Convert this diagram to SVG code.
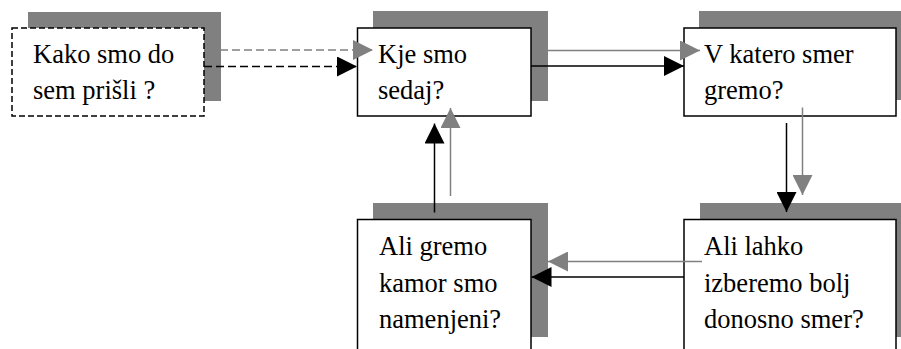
<svg xmlns="http://www.w3.org/2000/svg" width="901" height="349" viewBox="0 0 901 349" font-family="Liberation Serif, Times New Roman, serif">
  <style>
    .shadow { fill: #808080; stroke: none; }
    .box { fill: #ffffff; stroke: #000000; stroke-width: 1.5; }
    .box.dashed { stroke-dasharray: 6 3; }
    .label { font-size: 26.5px; fill: #000000; }
    .link { fill: none; stroke-width: 1.5; }
    .link.black { stroke: #000000; marker-end: url(#head-black); }
    .link.grey { stroke: #808080; marker-end: url(#head-grey); }
    .link.dash { stroke-dasharray: 8 4; }
  </style>
  <defs>
    <marker id="head-black" viewBox="0 0 20 20" refX="20" refY="10" markerWidth="20" markerHeight="20" markerUnits="userSpaceOnUse" orient="auto">
      <path d="M0,0 L20,10 L0,20 Z" fill="#000000"/>
    </marker>
    <marker id="head-grey" viewBox="0 0 20 20" refX="20" refY="10" markerWidth="20" markerHeight="20" markerUnits="userSpaceOnUse" orient="auto">
      <path d="M0,0 L20,10 L0,20 Z" fill="#808080"/>
    </marker>
  </defs>
  <rect width="901" height="349" fill="#ffffff"/>

  <!-- Boxes with offset grey shadows -->
  <g id="node-kako">
    <rect class="shadow" x="28" y="12" width="193" height="89"/>
    <rect class="box dashed" x="12" y="28" width="192" height="88"/>
    <text class="label" x="33" y="63">Kako smo do</text>
    <text class="label" x="33" y="99">sem prišli ?</text>
  </g>

  <g id="node-kje">
    <rect class="shadow" x="373" y="11" width="175" height="90"/>
    <rect class="box" x="357.5" y="28" width="173.5" height="88"/>
    <text class="label" x="378" y="63">Kje smo</text>
    <text class="label" x="378" y="99">sedaj?</text>
  </g>

  <g id="node-smer">
    <rect class="shadow" x="699" y="11" width="215" height="89"/>
    <rect class="box" x="684" y="28" width="212" height="88"/>
    <text class="label" x="704" y="63">V katero smer</text>
    <text class="label" x="704" y="99">gremo?</text>
  </g>

  <g id="node-gremo">
    <rect class="shadow" x="373" y="203" width="175" height="134"/>
    <rect class="box" x="357.5" y="219.5" width="173.5" height="140"/>
    <text class="label" x="379" y="255">Ali gremo</text>
    <text class="label" x="379" y="291.5">kamor smo</text>
    <text class="label" x="379" y="328">namenjeni?</text>
  </g>

  <g id="node-izbira">
    <rect class="shadow" x="700" y="203" width="215" height="134"/>
    <rect class="box" x="684" y="219.5" width="212" height="140"/>
    <text class="label" x="704" y="255">Ali lahko</text>
    <text class="label" x="704" y="291.5">izberemo bolj</text>
    <text class="label" x="704" y="328">donosno smer?</text>
  </g>

  <!-- Connectors: paired grey and black arrows -->
  <g id="connectors">
    <path class="link grey dash" d="M220,50 L373,50"/>
    <path class="link black dash" d="M204,66.5 L357,66.5"/>
    <path class="link grey" d="M548,50.5 L700,50.5"/>
    <path class="link black" d="M531,66 L684,66"/>
    <path class="link black" d="M786.5,123 L786.5,212"/>
    <path class="link grey" d="M802.5,107.5 L802.5,195"/>
    <path class="link grey" d="M702,261.5 L548,261.5"/>
    <path class="link black" d="M684,277 L531.5,277"/>
    <path class="link black" d="M434.5,212.5 L434.5,123.5"/>
    <path class="link grey" d="M450.5,196 L450.5,108"/>
  </g>
</svg>
